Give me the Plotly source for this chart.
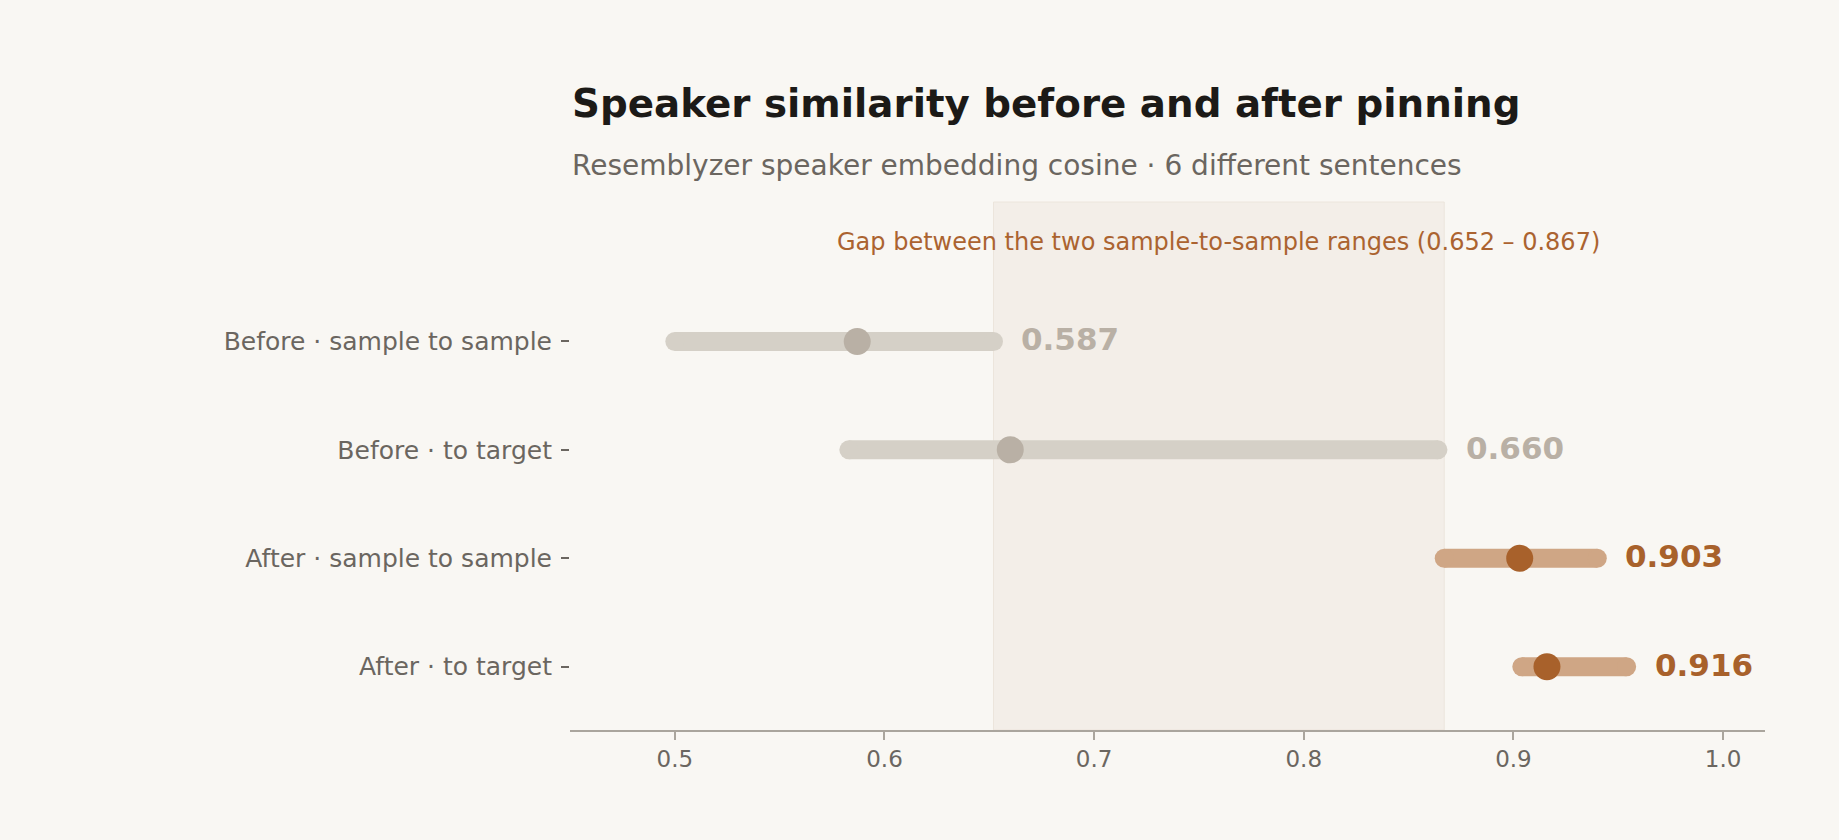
import plotly.graph_objects as go

# speaker similarity ranges (min / max) and means
categories = ["Before · sample to sample", "Before · to target",
              "After · sample to sample", "After · to target"]
range_lo = [0.500, 0.583, 0.867, 0.904]
range_hi = [0.652, 0.864, 0.940, 0.954]
means = [0.587, 0.660, 0.903, 0.916]
gap = [0.652, 0.867]
x_ticks = [0.5, 0.6, 0.7, 0.8, 0.9, 1.0]

FONT = "DejaVu Sans"
BG = "#f9f7f3"
bar_colors = ["#d5d0c7", "#d5d0c7", "#cfa685", "#cfa685"]
dot_colors = ["#b9b0a5", "#b9b0a5", "#a8612b", "#a8612b"]

fig = go.Figure()

# shaded gap between the two sample-to-sample ranges
fig.add_shape(type="rect", xref="x", yref="paper",
              x0=gap[0], x1=gap[1], y0=0, y1=1,
              fillcolor="#f3eee8", line=dict(color="#ece5dc", width=1),
              layer="below")

for i, cat in enumerate(categories):
    # range bar, end markers give it round caps
    fig.add_trace(go.Scatter(
        x=[range_lo[i], range_hi[i]], y=[i, i], mode="lines+markers",
        line=dict(color=bar_colors[i], width=19),
        marker=dict(size=19, color=bar_colors[i], line=dict(width=0)),
        hoverinfo="skip", showlegend=False))
    # mean dot
    fig.add_trace(go.Scatter(
        x=[means[i]], y=[i], mode="markers",
        marker=dict(size=27, color=dot_colors[i], line=dict(width=0)),
        name=cat, showlegend=False))
    fig.add_annotation(x=range_hi[i], y=i, xref="x", yref="y",
                       text="<b>%.3f</b>" % means[i], showarrow=False,
                       xanchor="left", yanchor="middle", xshift=26, yshift=2,
                       font=dict(family=FONT, size=31, color=dot_colors[i]))

fig.add_annotation(x=(gap[0] + gap[1]) / 2, y=0.925, xref="x", yref="paper",
                   text="Gap between the two sample-to-sample ranges (%.3f – %.3f)" % (gap[0], gap[1]),
                   showarrow=False, xanchor="center", yanchor="middle",
                   font=dict(family=FONT, size=24, color="#ab6330"))

# title + subtitle
fig.add_annotation(x=0, y=1.186, xref="paper", yref="paper",
                   text="<b>Speaker similarity before and after pinning</b>",
                   showarrow=False, xanchor="left", yanchor="middle",
                   font=dict(family=FONT, size=38.8, color="#1c1a17"))
fig.add_annotation(x=0, y=1.069, xref="paper", yref="paper",
                   text="Resemblyzer speaker embedding cosine · 6 different sentences",
                   showarrow=False, xanchor="left", yanchor="middle",
                   font=dict(family=FONT, size=28, color="#6b6660"))

fig.update_xaxes(range=[0.45, 1.02], tickvals=x_ticks,
                 ticktext=["%.1f" % v for v in x_ticks],
                 showgrid=False, zeroline=False,
                 showline=True, linecolor="#aaa59d", linewidth=1.5,
                 ticks="outside", ticklen=8, tickcolor="#aaa59d", tickwidth=1.5,
                 tickfont=dict(family=FONT, size=23, color="#6b6660"))
fig.update_yaxes(range=[3.584, -1.286], tickvals=list(range(len(categories))),
                 ticktext=categories, showgrid=False, zeroline=False,
                 showline=False, ticks="outside", ticklen=8,
                 tickcolor="#6b6660", tickwidth=1.5, ticklabelstandoff=4,
                 tickfont=dict(family=FONT, size=25, color="#6b6660"))

fig.update_layout(width=1839, height=840,
                  margin=dict(l=570, r=74, t=202, b=110),
                  paper_bgcolor=BG, plot_bgcolor=BG,
                  font=dict(family=FONT))

fig.write_html("out.html", config={"displayModeBar": False},
               post_script="document.body.style.margin='0';"
                           "document.body.style.background='%s';" % BG)
